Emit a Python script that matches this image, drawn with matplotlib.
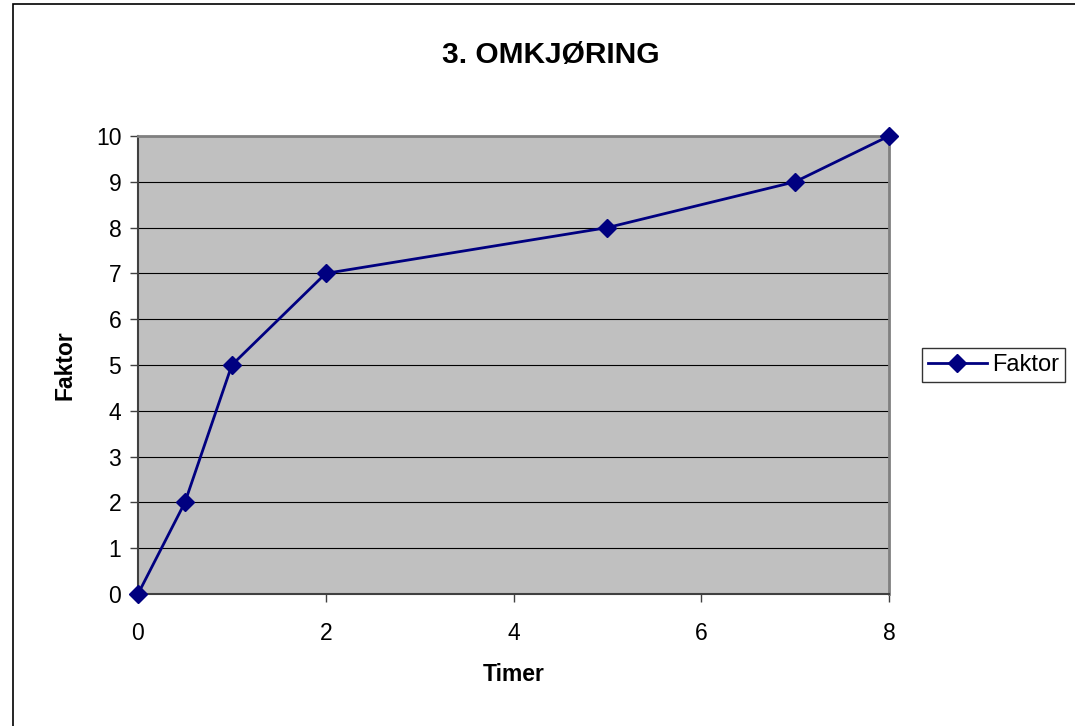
import matplotlib.pyplot as plt
from matplotlib.patches import Rectangle

timer = [0, 0.5, 1, 2, 5, 7, 8]
faktor = [0, 2, 5, 7, 8, 9, 10]
x_ticks = [0, 2, 4, 6, 8]
y_ticks = list(range(0, 11))

plt.rcParams['font.family'] = ['Liberation Sans', 'DejaVu Sans']

fig = plt.figure(figsize=(10.75, 7.26), dpi=100)
ax = fig.add_axes([138/1075, 1 - 594/726, (889-138)/1075, (594-136)/726])

# ramme rundt hele diagrammet
fig.patches.append(Rectangle((13/1075, -0.1), 1.2, (726-4)/726 + 0.1,
                             transform=fig.transFigure, fill=False,
                             edgecolor='black', linewidth=1.2, clip_on=False))

ax.set_facecolor('#C0C0C0')
ax.plot(timer, faktor, color='#000080', linewidth=2, marker='D',
        markersize=9.5, label='Faktor', clip_on=False, zorder=5)

ax.set_xlim(0, 8)
ax.set_ylim(0, 10)
ax.set_xticks(x_ticks)
ax.set_yticks(y_ticks)
ax.yaxis.grid(True, color='black', linewidth=0.8)
ax.set_axisbelow(True)

for side in ['left', 'bottom']:
    ax.spines[side].set_color('#404040')
    ax.spines[side].set_linewidth(1.5)
for side in ['top', 'right']:
    ax.spines[side].set_color('#808080')
    ax.spines[side].set_linewidth(2)

ax.tick_params(axis='both', direction='out', length=6, width=1,
               color='#404040', labelsize=16.5)
ax.tick_params(axis='y', pad=6)
ax.tick_params(axis='x', pad=14)

fig.text(551/1075, 1 - 55/726, '3. OMKJØRING', fontsize=21.5, fontweight='bold',
         ha='center', va='center')
ax.set_xlabel('Timer', fontsize=16.5, fontweight='bold', labelpad=13)
ax.set_ylabel('Faktor', fontsize=16.5, fontweight='bold', labelpad=14)

leg = ax.legend(loc='center left', bbox_to_anchor=(922/1075, 1 - 365/726),
                bbox_transform=fig.transFigure, fontsize=17, frameon=True,
                fancybox=False, edgecolor='black', handlelength=2.5,
                borderpad=0.25, handletextpad=0.2, borderaxespad=0)
leg.get_frame().set_linewidth(1)

fig.savefig('out.png', dpi=100)
